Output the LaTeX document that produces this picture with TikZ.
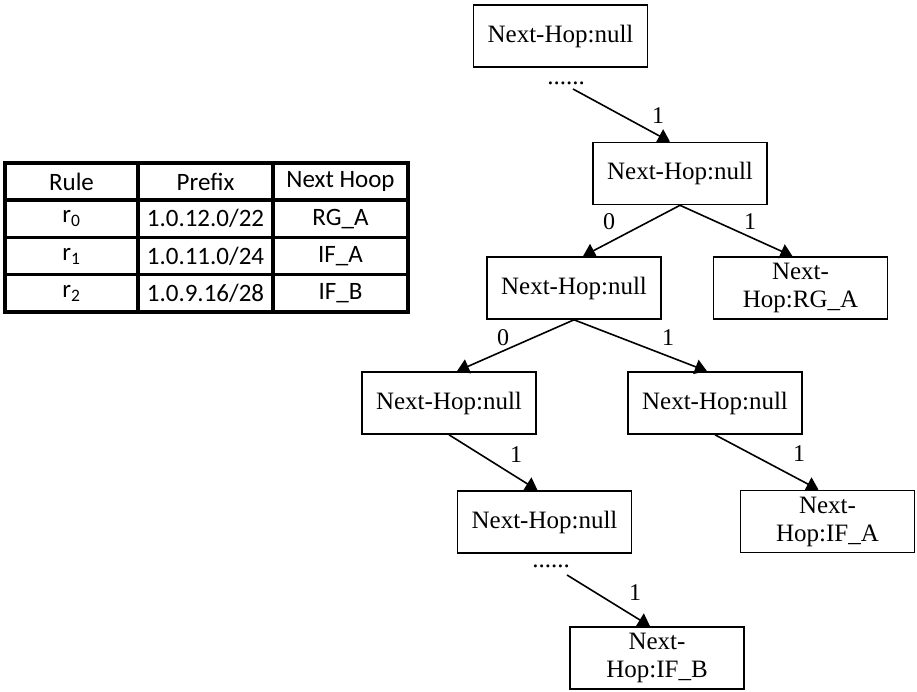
\documentclass[tikz,border=0pt]{standalone}
\usepackage{fontspec}
\setmainfont{Liberation Serif}
\newfontfamily\tabfont{Carlito}
\usetikzlibrary{arrows.meta}

\begin{document}
\begin{tikzpicture}[x=1pt,y=-1pt,
  hop/.style={draw, line width=1.6pt, minimum width=174pt, minimum height=62pt,
    inner sep=0pt, align=center, font=\fontsize{25}{28}\selectfont},
  dots/.style={inner sep=0pt, anchor=base, font=\fontsize{25}{28}\selectfont},
  lbl/.style={inner sep=0pt, font=\fontsize{24}{28}\selectfont},
  arr/.style={line width=1.6pt, -{Triangle[width=15pt,length=12pt]}},
  cell/.style={draw, line width=3.5pt, minimum height=37.3pt, inner sep=0pt,
    font=\tabfont\fontsize{25}{28}\selectfont},
  c1/.style={cell, minimum width=133pt},
  c2/.style={cell, minimum width=135pt},
  c3/.style={cell, minimum width=135pt}]
\useasboundingbox (0,0) rectangle (917,692);

% rule table
\node[c1] (h1) at (71.5,181.5) {Rule};
\node[c2] (h2) at (205.5,181.5) {Prefix};
\node[c3] (h3) at (340.5,181.5) {Next Hoop};
\node[c1] (a1) at (71.5,218.8) {r\textsubscript{0}};
\node[c2] (a2) at (205.5,218.8) {1.0.12.0/22};
\node[c3] (a3) at (340.5,218.8) {RG\_A};
\node[c1] (b1) at (71.5,256.1) {r\textsubscript{1}};
\node[c2] (b2) at (205.5,256.1) {1.0.11.0/24};
\node[c3] (b3) at (340.5,256.1) {IF\_A};
\node[c1] (e1) at (71.5,293.4) {r\textsubscript{2}};
\node[c2] (e2) at (205.5,293.4) {1.0.9.16/28};
\node[c3] (e3) at (340.5,293.4) {IF\_B};

% trie nodes
\node[hop] (root) at (560.5,36) {Next-Hop:null};
\node[dots] (d1) at (566,85) {......};
\coordinate (t1) at (573,89);
\node[hop] (n1) at (680,173.5) {Next-Hop:null};
\node[hop] (n2) at (574,288) {Next-Hop:null};
\node[hop] (n3) at (800.5,288) {Next-\\Hop:RG\_A};
\node[hop] (n4) at (449,403) {Next-Hop:null};
\node[hop] (n5) at (715,403) {Next-Hop:null};
\node[hop] (n6) at (544.5,522) {Next-Hop:null};
\node[hop] (n7) at (827.5,521.5) {Next-\\Hop:IF\_A};
\node[dots] (d2) at (551,567) {......};
\coordinate (t2) at (567,575);
\node[hop] (n8) at (657,658) {Next-\\Hop:IF\_B};

% branches
\draw[arr] (t1) -- ([xshift=-10pt]n1.north);
\draw[arr] (n1.south) -- ([xshift=9pt]n2.north);
\draw[arr] (n1.south) -- ([xshift=-8pt]n3.north);
\draw[arr] (n2.south) -- ([xshift=8pt]n4.north);
\draw[arr] (n2.south) -- ([xshift=-8pt]n5.north);
\draw[arr] (n4.south) -- ([xshift=-7pt]n6.north);
\draw[arr] (n5.south) -- ([xshift=-9pt]n7.north);
\draw[arr] (t2) -- ([xshift=-7pt]n8.north);

% branch bits
\node[lbl] (l1) at (658,116) {1};
\node[lbl] (l2) at (609,222) {0};
\node[lbl] (l3) at (750,222) {1};
\node[lbl] (l4) at (503,338) {0};
\node[lbl] (l5) at (668,338) {1};
\node[lbl] (l6) at (516,455) {1};
\node[lbl] (l7) at (799,454) {1};
\node[lbl] (l8) at (635,593) {1};
\end{tikzpicture}
\end{document}
